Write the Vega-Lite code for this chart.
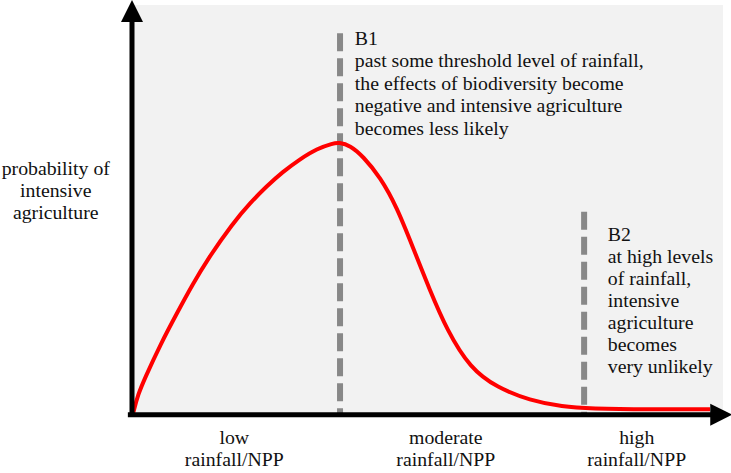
{
  "$schema": "https://vega.github.io/schema/vega-lite/v6.json",
  "width": 591,
  "height": 408,
  "autosize": "none",
  "padding": {"left": 132, "top": 5, "right": 8, "bottom": 60},
  "background": "white",
  "view": {"fill": "#f2f2f2", "stroke": null},
  "config": {"text": {"font": "Liberation Serif", "fontSize": 19.8, "color": "#111111"}},
  "layer": [
    {
      "data": {"values": [
        {"x": 35.2, "y": 93.1, "y2": 0, "id": "B1"},
        {"x": 76.5, "y": 49.3, "y2": 0, "id": "B2"}
      ]},
      "mark": {"type": "rule", "color": "#888888", "strokeWidth": 6, "strokeDash": [18, 7]},
      "encoding": {
        "x": {"field": "x", "type": "quantitative", "scale": {"domain": [0, 100], "nice": false, "zero": false}, "axis": null},
        "y": {"field": "y", "type": "quantitative", "scale": {"domain": [0, 100], "nice": false, "zero": false}, "axis": null},
        "y2": {"field": "y2"}
      }
    },
    {
      "data": {"values": [
        {"x": 0.2, "y": 0},
        {"x": 1.0, "y": 4.5},
        {"x": 2.2, "y": 8.6},
        {"x": 4.7, "y": 16.5},
        {"x": 7.8, "y": 25.0},
        {"x": 10.3, "y": 31.6},
        {"x": 12.7, "y": 37.5},
        {"x": 17.1, "y": 46.6},
        {"x": 20.0, "y": 51.5},
        {"x": 22.8, "y": 55.6},
        {"x": 25.5, "y": 59.1},
        {"x": 28.4, "y": 62.2},
        {"x": 31.3, "y": 64.8},
        {"x": 34.0, "y": 66.1},
        {"x": 35.0, "y": 66.3},
        {"x": 36.9, "y": 65.6},
        {"x": 39.1, "y": 62.9},
        {"x": 42.0, "y": 57.8},
        {"x": 44.8, "y": 50.5},
        {"x": 47.5, "y": 40.7},
        {"x": 50.4, "y": 30.1},
        {"x": 53.3, "y": 20.3},
        {"x": 57.2, "y": 11.0},
        {"x": 61.8, "y": 6.2},
        {"x": 67.3, "y": 3.1},
        {"x": 72.9, "y": 1.5},
        {"x": 77.5, "y": 1.1},
        {"x": 87.6, "y": 0.9},
        {"x": 97.8, "y": 0.9}
      ]},
      "mark": {"type": "line", "color": "#ff0000", "strokeWidth": 4, "interpolate": "basis"},
      "encoding": {
        "x": {"field": "x", "type": "quantitative"},
        "y": {"field": "y", "type": "quantitative"}
      }
    },
    {
      "data": {"values": [
        {"x": 0, "x2": 0, "y": -0.5, "y2": 97},
        {"x": -0.7, "x2": 98, "y": -0.4, "y2": -0.4}
      ]},
      "mark": {"type": "rule", "color": "black", "strokeWidth": 5},
      "encoding": {
        "x": {"field": "x", "type": "quantitative"},
        "x2": {"field": "x2"},
        "y": {"field": "y", "type": "quantitative"},
        "y2": {"field": "y2"}
      }
    },
    {
      "data": {"values": [{"x": 0, "y": 98.5}]},
      "mark": {"type": "point", "shape": "M0,-1L1,1L-1,1Z", "size": 484, "filled": true, "color": "black", "opacity": 1},
      "encoding": {
        "x": {"field": "x", "type": "quantitative"},
        "y": {"field": "y", "type": "quantitative"}
      }
    },
    {
      "data": {"values": [{"x": 99.7, "y": -0.4}]},
      "mark": {"type": "point", "shape": "M1,0L-1,-1L-1,1Z", "size": 484, "filled": true, "color": "black", "opacity": 1},
      "encoding": {
        "x": {"field": "x", "type": "quantitative"},
        "y": {"field": "y", "type": "quantitative"}
      }
    },
    {
      "data": {"values": [
        {"x": 37.7, "y": 94.2, "label": ["B1", "past some threshold level of rainfall,", "the effects of biodiversity become", "negative and intensive agriculture", "becomes less likely"]}
      ]},
      "mark": {"type": "text", "align": "left", "baseline": "top", "lineHeight": 22.5},
      "encoding": {
        "x": {"field": "x", "type": "quantitative"},
        "y": {"field": "y", "type": "quantitative"},
        "text": {"field": "label"}
      }
    },
    {
      "data": {"values": [
        {"x": 80.5, "y": 46.2, "label": ["B2", "at high levels", "of rainfall,", "intensive", "agriculture", "becomes", "very unlikely"]}
      ]},
      "mark": {"type": "text", "align": "left", "baseline": "top", "lineHeight": 22},
      "encoding": {
        "x": {"field": "x", "type": "quantitative"},
        "y": {"field": "y", "type": "quantitative"},
        "text": {"field": "label"}
      }
    },
    {
      "data": {"values": [
        {"x": -12.9, "y": 59.8, "label": ["probability of", "intensive", "agriculture"]},
        {"x": 17.3, "y": -6.1, "label": ["low", "rainfall/NPP"]},
        {"x": 53.1, "y": -6.1, "label": ["moderate", "rainfall/NPP"]},
        {"x": 85.4, "y": -6.1, "label": ["high", "rainfall/NPP"]}
      ]},
      "mark": {"type": "text", "align": "center", "baseline": "middle", "lineHeight": 22},
      "encoding": {
        "x": {"field": "x", "type": "quantitative"},
        "y": {"field": "y", "type": "quantitative"},
        "text": {"field": "label"}
      }
    }
  ]
}
